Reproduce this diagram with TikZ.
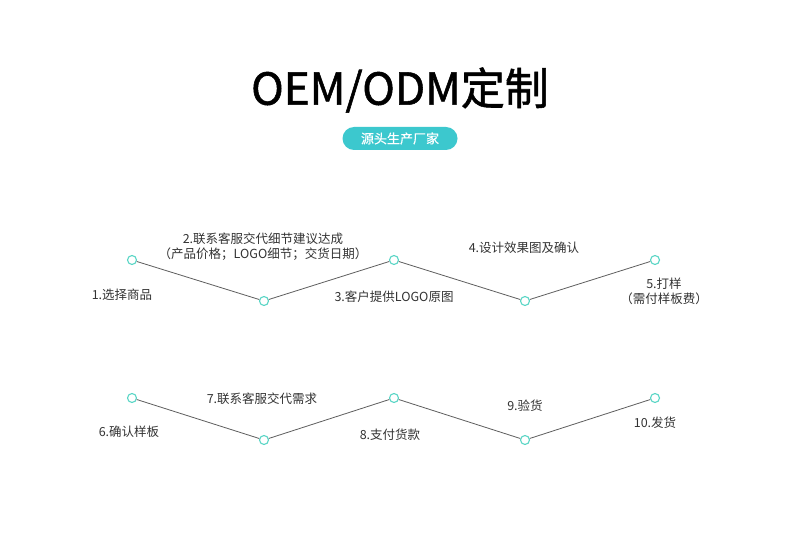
\documentclass[tikz,border=0pt]{standalone}
\usepackage{fontspec}
\setmainfont{Noto Sans CJK SC}
\newfontfamily\cjkmed{Noto Sans CJK SC}[FakeBold=1.2]
\newfontfamily\cjksemi{Noto Sans CJK SC}[FakeBold=0.4]
\definecolor{teal1}{HTML}{3CC8CE}
\definecolor{dotc}{HTML}{5AD6C6}
\definecolor{linec}{HTML}{5E5E5E}
\definecolor{txt}{HTML}{333333}
\tikzset{
  dot/.style={circle,draw=dotc,fill=white,line width=1.1bp,minimum size=9bp,inner sep=0pt},
  lbl/.style={text=txt,font=\fontsize{12.5bp}{15bp}\selectfont,inner sep=0pt,align=center},
  zig/.style={draw=linec,line width=0.8bp}
}
\begin{document}
\begin{tikzpicture}[x=1bp,y=-1bp]
\useasboundingbox (0,0) rectangle (800,554);
\fill[white] (0,0) rectangle (800,554);
\node[text=black,font=\cjkmed\fontsize{44bp}{50bp}\selectfont,inner sep=0pt] (title) at (400,90) {OEM/ODM定制};
\node[fill=teal1,rounded corners=11.5bp,minimum width=115bp,minimum height=23bp,inner sep=0pt,text=white,font=\cjksemi\fontsize{13bp}{15bp}\selectfont] (pill) at (400,138.5) {源头生产厂家};
% row 1
\node[dot] (a1) at (132,260) {};
\node[dot] (a2) at (264,301) {};
\node[dot] (a3) at (394,260) {};
\node[dot] (a4) at (525,301) {};
\node[dot] (a5) at (655,260) {};
\draw[zig] (a1) -- (a2) -- (a3) -- (a4) -- (a5);
\node[lbl] (t1) at (122,295) {1.选择商品};
\node[lbl] (t2) at (263,247) {2.联系客服交代细节建议达成\\（产品价格；LOGO细节；交货日期）};
\node[lbl] (t3) at (394,297) {3.客户提供LOGO原图};
\node[lbl] (t4) at (524,248) {4.设计效果图及确认};
\node[lbl] (t5) at (664,291.5) {5.打样\\（需付样板费）};
% row 2
\node[dot] (b1) at (132,398) {};
\node[dot] (b2) at (264,440) {};
\node[dot] (b3) at (394,398) {};
\node[dot] (b4) at (525,440) {};
\node[dot] (b5) at (655,398) {};
\draw[zig] (b1) -- (b2) -- (b3) -- (b4) -- (b5);
\node[lbl] (s1) at (129,432) {6.确认样板};
\node[lbl] (s2) at (262,399) {7.联系客服交代需求};
\node[lbl] (s3) at (390,435) {8.支付货款};
\node[lbl] (s4) at (525,406) {9.验货};
\node[lbl] (s5) at (655,423) {10.发货};
\end{tikzpicture}
\end{document}
